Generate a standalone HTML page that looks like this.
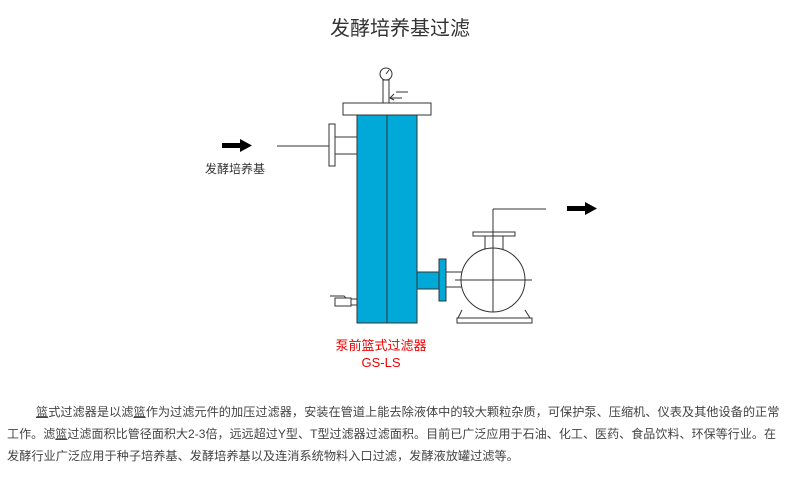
<!DOCTYPE html>
<html><head><meta charset="utf-8"><style>
body{margin:0;width:800px;height:481px;background:#fff;position:relative;overflow:hidden;font-family:"Liberation Sans","Noto Sans CJK SC",sans-serif;}
.t{position:absolute;white-space:nowrap;}
.p{position:absolute;font-size:12.2px;color:#444;white-space:nowrap;text-align:justify;text-align-last:justify;height:18px;line-height:18px;}
u{text-decoration:underline;}
</style></head><body>
<div class="t" style="left:0;width:800px;text-align:center;top:12px;font-size:20px;color:#333;">发酵培养基过滤</div>
<svg width="800" height="481" style="position:absolute;left:0;top:0" stroke="#333" stroke-width="1" fill="none">
<polygon points="222,143 240,143 240,139 252,145.5 240,152 240,148 222,148" fill="#000" stroke="none"/>
<line x1="277" y1="146" x2="329" y2="146"/>
<rect x="329" y="124" width="6" height="42" fill="#fff"/>
<rect x="335" y="137" width="22" height="17" fill="#fff"/>
<rect x="357" y="115" width="60" height="208" fill="#00a9d8" stroke="#333"/>
<line x1="387" y1="103" x2="387" y2="323"/>
<rect x="343" y="103" width="88" height="12" fill="#fff"/>
<rect x="383" y="80" width="6" height="23" fill="#fff"/>
<circle cx="386" cy="74" r="6" fill="#fff"/>
<line x1="386" y1="74" x2="389" y2="70"/>
<path d="M390,98 H402 M394,94 L390,98 L394,100 M396,92 H408"/>
<rect x="335" y="298" width="16" height="8" fill="#fff"/>
<rect x="351" y="299" width="6" height="6" fill="#fff"/>
<path d="M330,296 H344 L346,298"/>
<rect x="417" y="272" width="23" height="17" fill="#00a9d8"/>
<rect x="439" y="259" width="7" height="42" fill="#00a9d8"/>
<rect x="446" y="272" width="16" height="15" fill="#fff"/>
<rect x="473" y="232" width="42" height="4" fill="#fff"/>
<rect x="485" y="236" width="18" height="14" fill="#fff"/>
<path d="M462,310 L458,318 H530 L525,310"/>
<rect x="457" y="318" width="75" height="5" fill="#fff"/>
<circle cx="493" cy="280" r="32" fill="#fff"/>
<line x1="455" y1="280" x2="532" y2="280"/>
<line x1="493" y1="209" x2="493" y2="312"/>
<line x1="493" y1="209" x2="546" y2="209"/>
<polygon points="567,206 585,206 585,202 597,208.5 585,215 585,211 567,211" fill="#000" stroke="none"/>
</svg>
<div class="t" style="left:205px;top:160px;font-size:12px;color:#333;">发酵培养基</div>
<div class="t" style="left:331px;width:100px;text-align:center;top:337px;font-size:13px;color:#e00;line-height:17px;">泵前篮式过滤器<br>GS-LS</div>
<div class="p" style="left:36px;width:740px;top:403px;"><u>篮</u>式过滤器是以滤<u>篮</u>作为过滤元件的加压过滤器，安装在管道上能去除液体中的较大颗粒杂质，可保护泵、压缩机、仪表及其他设备的正常</div>
<div class="p" style="left:7px;width:769px;top:425px;font-size:12px;">工作。滤<u>篮</u>过滤面积比管径面积大2-3倍，远远超过Y型、T型过滤器过滤面积。目前已广泛应用于石油、化工、医药、食品饮料、环保等行业。在</div>
<div class="p" style="left:7px;top:447px;text-align:left;text-align-last:left;">发酵行业广泛应用于种子培养基、发酵培养基以及连消系统物料入口过滤，发酵液放罐过滤等。</div>
</body></html>
